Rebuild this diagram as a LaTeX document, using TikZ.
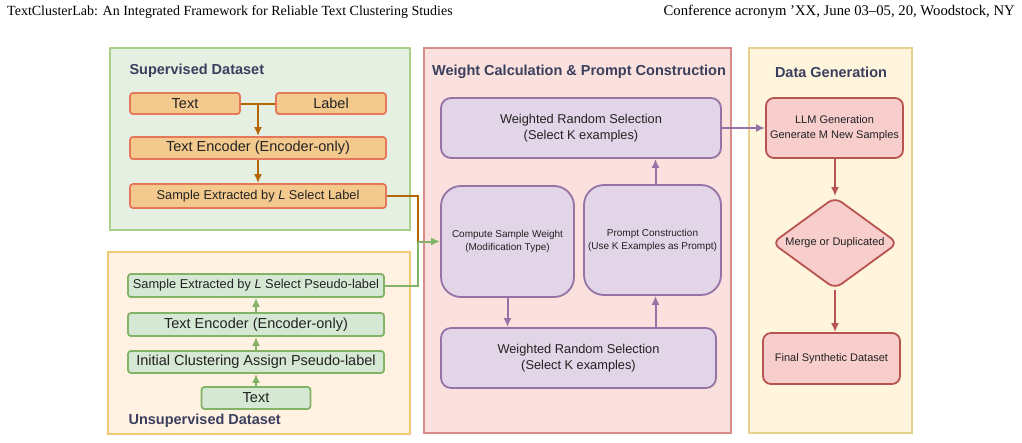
\documentclass[tikz,border=0pt]{standalone}
\usepackage{fontspec}
\setmainfont{Liberation Sans}
\newfontfamily\headfont{Liberation Serif}
\usetikzlibrary{shapes.geometric, arrows.meta, positioning, calc}

\definecolor{supfill}{HTML}{E6F0E2}
\definecolor{supdraw}{HTML}{A9D18E}
\definecolor{unsfill}{HTML}{FFF2E2}
\definecolor{unsdraw}{HTML}{F1CB73}
\definecolor{wcfill}{HTML}{FAE1DD}
\definecolor{wcdraw}{HTML}{D88B8B}
\definecolor{genfill}{HTML}{FFF5DD}
\definecolor{gendraw}{HTML}{E6D28E}
\definecolor{ofill}{HTML}{F3C98E}
\definecolor{odraw}{HTML}{E5785A}
\definecolor{oline}{HTML}{B46504}
\definecolor{gfill}{HTML}{D5E8D4}
\definecolor{gdraw}{HTML}{82B366}
\definecolor{pfill}{HTML}{E1D5E7}
\definecolor{pdraw}{HTML}{9673A6}
\definecolor{rfill}{HTML}{F8CECC}
\definecolor{rdraw}{HTML}{B85450}
\definecolor{titlecol}{HTML}{3B3F5E}
\definecolor{txtcol}{HTML}{222222}

\begin{document}
\begin{tikzpicture}[
			x=1pt, y=-1pt,
			>={Latex[length=9pt,width=8pt]},
			panel/.style={line width=1.8pt},
			title/.style={anchor=west, text=titlecol, font=\fontsize{14.5}{17}\selectfont\bfseries},
			box/.style={rectangle, rounded corners=3pt, line width=1.8pt, inner sep=1pt, text=txtcol, font=\fontsize{14.5}{17}\selectfont},
			obox/.style={box, fill=ofill, draw=odraw},
			gbox/.style={box, fill=gfill, draw=gdraw},
			pbox/.style={box, fill=pfill, draw=pdraw, rounded corners=10pt, align=center, font=\fontsize{12.8}{16}\selectfont},
			rbox/.style={box, fill=rfill, draw=rdraw, rounded corners=8pt, align=center, font=\fontsize{11}{15}\selectfont},
			small/.style={font=\fontsize{12.8}{15}\selectfont},
			olink/.style={draw=oline, line width=2pt},
			glink/.style={draw=gdraw, line width=2pt},
			plink/.style={draw=pdraw, line width=2pt},
			rlink/.style={draw=rdraw, line width=2pt}
			]
			\useasboundingbox (0,0) rectangle (1022,442);
			
			% --- Header ---
			\node[anchor=west, inner sep=0pt, font=\headfont\fontsize{14}{16}\selectfont] (hleft) at (7,12) {TextClusterLab: An Integrated Framework for Reliable Text Clustering Studies};
			\node[anchor=east, inner sep=0pt, font=\headfont\fontsize{14.7}{16}\selectfont] (hright) at (1015,12) {Conference acronym ’XX, June 03–05, 20, Woodstock, NY};
			
			% --- Panels ---
			\draw[panel, fill=supfill, draw=supdraw] (110,48) rectangle (410,230);
			\draw[panel, fill=unsfill, draw=unsdraw] (108,252) rectangle (410,434);
			\draw[panel, fill=wcfill, draw=wcdraw] (424,48) rectangle (731,433);
			\draw[panel, fill=genfill, draw=gendraw] (749,48) rectangle (912,433);
			
			\node[title] (suptitle) at (126,71) {Supervised Dataset};
			\node[title] (unstitle) at (125,421) {Unsupervised Dataset};
			\node[title] (wctitle) at (579,72) [anchor=center] {Weight Calculation \& Prompt Construction};
			\node[title] (gentitle) at (831,72) [anchor=center] {Data Generation};
			
			% --- Supervised Dataset ---
			\node[obox, minimum width=110pt, minimum height=21pt] (stext) at (185,103.5) {Text};
			\node[obox, minimum width=110pt, minimum height=21pt] (slabel) at (331,103.5) {Label};
			\node[obox, minimum width=256pt, minimum height=22pt] (senc) at (258,148) {Text Encoder (Encoder-only)};
			\node[obox, small, minimum width=256pt, minimum height=24pt] (ssample) at (258,196) {Sample Extracted by \emph{L} Select Label};
			
			\coordinate (sjoin) at ($(stext.east)!0.5!(slabel.west)$); % junction of Text and Label
			\draw[olink] (stext) -- (slabel);
			\draw[olink, ->] (sjoin) -- (sjoin |- senc.north);
			\draw[olink, ->] (senc) -- (ssample);
			
			% --- Unsupervised Dataset ---
			\node[gbox, small, minimum width=256pt, minimum height=23pt] (upseudo) at (256,285.5) {Sample Extracted by \emph{L} Select Pseudo-label};
			\node[gbox, minimum width=256pt, minimum height=23pt] (uenc) at (256,324.5) {Text Encoder (Encoder-only)};
			\node[gbox, minimum width=256pt, minimum height=22pt] (uinit) at (256,362) {Initial Clustering Assign Pseudo-label};
			\node[gbox, minimum width=109pt, minimum height=22pt] (utext) at (256,398) {Text};
			
			\draw[glink, ->] (utext) -- (uinit);
			\draw[glink, ->] (uinit) -- (uenc);
			\draw[glink, ->] (uenc) -- (upseudo);
			
			% --- Weight Calculation & Prompt Construction ---
			\node[pbox, minimum width=280pt, minimum height=60pt] (wtop) at (581,128) {Weighted Random Selection\\(Select K examples)};
			\node[pbox, rounded corners=20pt, font=\fontsize{10}{13}\selectfont, minimum width=133pt, minimum height=111pt] (comp) at (507.5,241.5) {Compute Sample Weight\\(Modification Type)};
			\node[pbox, rounded corners=20pt, font=\fontsize{10}{13}\selectfont, minimum width=137pt, minimum height=110pt] (prompt) at (652.5,240) {Prompt Construction\\(Use K Examples as Prompt)};
			\node[pbox, minimum width=275pt, minimum height=60pt] (wbot) at (578.5,358) {Weighted Random Selection\\(Select K examples)};
			
			% merge of both datasets into the weight step
			\coordinate (mjoin) at (comp.west -| 418,0);
			\draw[olink] (ssample.east) -| (mjoin);
			\draw[glink] (upseudo.east) -| (mjoin);
			\draw[glink, ->] (mjoin) -- (comp.west);
			
			\draw[plink, ->] (comp.south) -- (comp.south |- wbot.north);
			\draw[plink, ->] ([xshift=3pt]wbot.north -| prompt.south) -- ([xshift=3pt]prompt.south);
			\draw[plink, ->] ([xshift=3pt]prompt.north) -- ([xshift=3pt]prompt.north |- wtop.south);
			
			% --- Data Generation ---
			\node[rbox, minimum width=137pt, minimum height=60pt] (llm) at (834.5,128) {LLM Generation\\Generate M New Samples};
			\node[rbox, diamond, inner sep=0pt, aspect=1.4, rounded corners=8pt, minimum width=126pt, minimum height=92pt] (merge) at (835,243) {Merge or Duplicated};
			\node[rbox, minimum width=137pt, minimum height=51pt] (final) at (831.5,358.5) {Final Synthetic Dataset};
			
			\draw[plink, ->] (wtop.east) -- (llm.west);
			\draw[rlink, ->] (llm.south -| merge.north) -- (merge.north);
			\draw[rlink, ->] (merge.south) -- (merge.south |- final.north);
			
		\end{tikzpicture}
\end{document}
